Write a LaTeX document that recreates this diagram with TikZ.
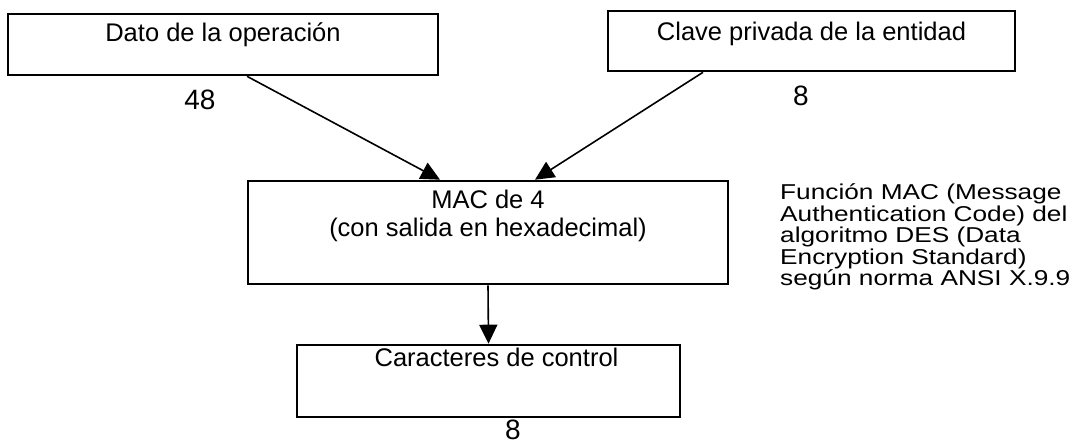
\documentclass[tikz,border=0pt]{standalone}
\usepackage{fontspec}
\setmainfont{Liberation Sans}
\newfontfamily\notefam[FakeStretch=1.22]{Liberation Sans}
\usetikzlibrary{arrows.meta}
\newcommand{\notefont}{\notefam\fontsize{21.5}{21.5}\selectfont}

\begin{document}
\begin{tikzpicture}[x=1pt, y=-1pt,
    box/.style={draw, line width=2.6pt, inner sep=0pt},
    txt/.style={font=\fontsize{25.5}{28}\selectfont, anchor=base, inner sep=0pt, align=center},
    num/.style={font=\fontsize{28}{30}\selectfont, anchor=base, inner sep=0pt},
    note/.style={font=\notefont, anchor=base west, inner sep=0pt, align=left},
    arr/.style={line width=1.6pt, -{Triangle[length=19pt, width=18pt]}}]
    \useasboundingbox (0,0) rectangle (1071,443);
    % boxes
    \node[box, minimum width=430pt, minimum height=61pt] (dato) at (223,44.5) {};
    \node[box, minimum width=407pt, minimum height=60pt] (clave) at (811.5,41) {};
    \node[box, minimum width=480pt, minimum height=103pt] (mac) at (488,232.5) {};
    \node[box, minimum width=383pt, minimum height=72pt] (ctrl) at (488.5,381) {};
    % texts inside
    \node[txt] (datotxt) at ([yshift=-29pt]dato.north) {Dato de la operación};
    \node[txt] (clavetxt) at ([yshift=-31pt]clave.north) {Clave privada de la entidad};
    \node[txt] (mactxt) at ([yshift=-57pt]mac.north) {MAC de 4\\(con salida en hexadecimal)};
    \node[txt] (ctrltxt) at ([xshift=8pt, yshift=-23pt]ctrl.north) {Caracteres de control};
    % sizes
    \node[num] (ndato) at (200,110) {48};
    \node[num] (nclave) at (801,106) {8};
    \node[num] (nctrl) at (513,439) {8};
    % note
    \node[note] (nota) at (780,286) {Función MAC (Message\\Authentication Code) del\\algoritmo DES (Data\\Encryption Standard)\\según norma ANSI X.9.9};
    % arrows
    \draw[arr] ([xshift=24pt]dato.south) -- ([xshift=-48pt]mac.north);
    \draw[arr] ([xshift=-108.5pt]clave.south) -- ([xshift=47pt]mac.north);
    \draw[arr] (mac.south) -- (ctrl.north);
\end{tikzpicture}
\end{document}
